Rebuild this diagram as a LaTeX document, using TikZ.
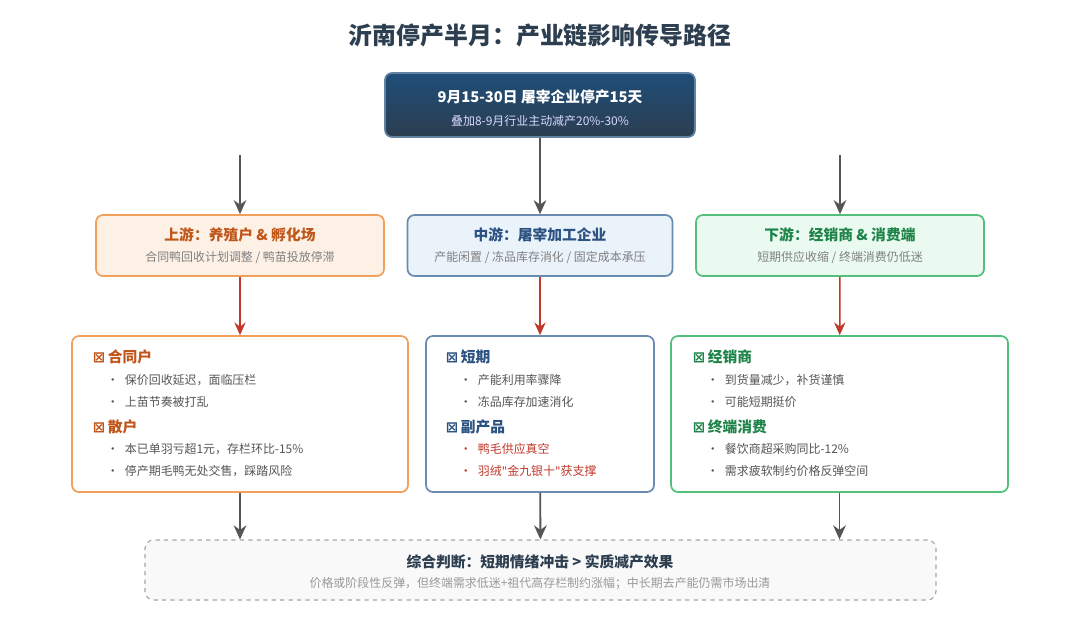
\documentclass[tikz,border=0pt]{standalone}
\usepackage{fontspec}
\setmainfont{Noto Sans CJK SC}
\newfontfamily\symfont{DejaVu Sans}
\usetikzlibrary{arrows.meta}
\definecolor{navy}{HTML}{2C3E50}
\definecolor{navyb}{HTML}{1F4E79}
\definecolor{org}{HTML}{C0561A}
\definecolor{orgline}{HTML}{F0A05A}
\definecolor{orgfill}{HTML}{FDF1E6}
\definecolor{blu}{HTML}{2C5282}
\definecolor{bluline}{HTML}{6A8BB2}
\definecolor{blufill}{HTML}{EAF2FA}
\definecolor{grn}{HTML}{1E8449}
\definecolor{grnline}{HTML}{52C07A}
\definecolor{grnfill}{HTML}{EAFAF0}
\definecolor{txt}{HTML}{555555}
\definecolor{redtxt}{HTML}{C0392B}
\tikzset{
  box/.style={draw, rounded corners=5pt, line width=1.2pt, inner sep=0pt},
  head/.style={font=\fontsize{10.5}{12}\selectfont\bfseries},
  sub/.style={font=\fontsize{8.5}{10}\selectfont, text=gray},
  item/.style={anchor=west, font=\fontsize{8.5}{10}\selectfont, text=txt},
  grayarrow/.style={draw=txt, line width=1.3pt, -{Stealth[length=10pt,width=9pt]}},
  redarrow/.style={draw=redtxt, line width=1.1pt, -{Stealth[length=9pt,width=8pt]}},
}
\newcommand{\ic}{{\symfont\char"22A0}\,}
\newcommand{\dq}{{\symfont\char"22}}
\begin{document}
\begin{tikzpicture}[x=0.025cm,y=-0.025cm]
  \useasboundingbox[fill=white] (0,0) rectangle (1080,624);
  \node[font=\fontsize{17}{20}\selectfont\bfseries, text=navy] (title) at (540,35) {沂南停产半月：产业链影响传导路径};

  % trigger
  \node[box, draw=navyb!70, top color=navyb, bottom color=navy, minimum width=310*0.025cm, minimum height=64*0.025cm] (top) at (540,105) {};
  \node[font=\fontsize{10.5}{12}\selectfont\bfseries, text=white] at (540,97) {9月15-30日 屠宰企业停产15天};
  \node[font=\fontsize{8.5}{10}\selectfont, text=white!85!blue] at (540,121) {叠加8-9月行业主动减产20\%-30\%};

  % level 2
  \node[box, draw=orgline, fill=orgfill, minimum width=288*0.025cm, minimum height=61*0.025cm] (up) at (240,245.5) {};
  \node[head, text=org] at (240,235) {上游：养殖户 \& 孵化场};
  \node[sub] at (240,258) {合同鸭回收计划调整 / 鸭苗投放停滞};
  \node[box, draw=bluline, fill=blufill, minimum width=265*0.025cm, minimum height=61*0.025cm] (mid) at (540,245.5) {};
  \node[head, text=blu] at (540,235) {中游：屠宰加工企业};
  \node[sub] at (540,258) {产能闲置 / 冻品库存消化 / 固定成本承压};
  \node[box, draw=grnline, fill=grnfill, minimum width=288*0.025cm, minimum height=61*0.025cm] (down) at (840,245.5) {};
  \node[head, text=grn] at (840,235) {下游：经销商 \& 消费端};
  \node[sub] at (840,258) {短期供应收缩 / 终端消费仍低迷};

  \coordinate (sl) at (240,155);
  \coordinate (sr) at (840,155);
  \draw[grayarrow] (sl) -- (up);
  \draw[grayarrow] (top) -- (mid);
  \draw[grayarrow] (sr) -- (down);

  % level 3
  \node[box, draw=orgline, fill=white, minimum width=336*0.025cm, minimum height=156*0.025cm] (upd) at (240,414) {};
  \node[box, draw=bluline, fill=white, minimum width=228*0.025cm, minimum height=156*0.025cm] (midd) at (540,414) {};
  \node[box, draw=grnline, fill=white, minimum width=337*0.025cm, minimum height=156*0.025cm] (downd) at (839.5,414) {};
  \draw[redarrow] (up) -- (upd);
  \draw[redarrow] (mid) -- (midd);
  \draw[redarrow] (down) -- (downd);

  \node[item, head, text=org] at (88,357) {\ic 合同户};
  \node[item] at (102,380) {·\enspace 保价回收延迟，面临压栏};
  \node[item] at (102,402) {·\enspace 上苗节奏被打乱};
  \node[item, head, text=org] at (88,427) {\ic 散户};
  \node[item] at (102,449) {·\enspace 本已单羽亏超1元，存栏环比-15\%};
  \node[item] at (102,471) {·\enspace 停产期毛鸭无处交售，踩踏风险};

  \node[item, head, text=blu] at (441,357) {\ic 短期};
  \node[item] at (455,380) {·\enspace 产能利用率骤降};
  \node[item] at (455,402) {·\enspace 冻品库存加速消化};
  \node[item, head, text=blu] at (441,427) {\ic 副产品};
  \node[item, text=redtxt] at (455,449) {·\enspace 鸭毛供应真空};
  \node[item, text=redtxt] at (455,471) {·\enspace 羽绒\dq 金九银十\dq 获支撑};

  \node[item, head, text=grn] at (688,357) {\ic 经销商};
  \node[item] at (702,380) {·\enspace 到货量减少，补货谨慎};
  \node[item] at (702,402) {·\enspace 可能短期挺价};
  \node[item, head, text=grn] at (688,427) {\ic 终端消费};
  \node[item] at (702,449) {·\enspace 餐饮商超采购同比-12\%};
  \node[item] at (702,471) {·\enspace 需求疲软制约价格反弹空间};

  % summary
  \node[draw=gray!70, dashed, rounded corners=6pt, line width=0.8pt, fill=gray!5, inner sep=0pt, minimum width=791*0.025cm, minimum height=60*0.025cm] (sum) at (540.5,570) {};
  \node[head, text=navy] at (540,562) {综合判断：短期情绪冲击 > 实质减产效果};
  \node[sub, text=gray!80] at (540,583) {价格或阶段性反弹，但终端需求低迷+祖代高存栏制约涨幅；中长期去产能仍需市场出清};
  \draw[grayarrow] (upd.south) -- (upd.south |- sum.north);
  \draw[grayarrow] (midd) -- (sum);
  \draw[grayarrow] (downd.south) -- (downd.south |- sum.north);
\end{tikzpicture}
\end{document}
